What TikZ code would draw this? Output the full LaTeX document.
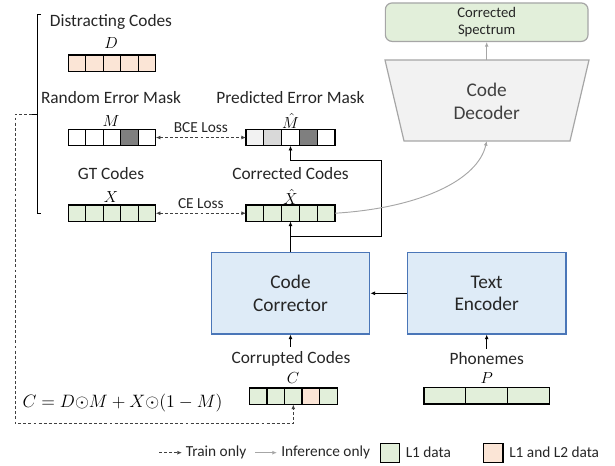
\documentclass[tikz,border=0pt]{standalone}
\usepackage{fontspec}
\setmainfont{Carlito}
\usetikzlibrary{arrows.meta}

\definecolor{lone}{HTML}{E2EFDA}
\definecolor{ltwo}{HTML}{FBE5D6}
\definecolor{boxblue}{HTML}{DEEBF7}
\definecolor{edgeblue}{HTML}{4A76B8}
\definecolor{maskdark}{HTML}{7F7F7F}
\definecolor{maskmid}{HTML}{D9D9D9}
\definecolor{masklight}{HTML}{F2F2F2}
\definecolor{infergray}{HTML}{A6A6A6}
\definecolor{txt}{HTML}{262626}

% row of code cells: name, left, top, cell width, fills
\newcommand{\codebar}[5]{%
  \foreach \c [count=\i] in {#5} {
    \node[cell, minimum width=#4*0.75pt, fill=\c] (#1\i) at ({#2+(\i-0.5)*#4}, #3+8.25) {};
  }
}

\begin{document}
\begin{tikzpicture}[x=0.75pt, y=-0.75pt,
    cell/.style={draw=black, line width=1pt, minimum height=12.4pt, inner sep=0pt, outer sep=0pt},
    lbl/.style={text=txt, font=\fontsize{13}{15}\selectfont, inner sep=0pt},
    sym/.style={font=\fontsize{13}{15}\selectfont, inner sep=0pt},
    module/.style={draw=edgeblue, line width=0.9pt, fill=boxblue, text=txt, align=center,
        minimum width=119pt, minimum height=61pt, font=\fontsize{14.5}{17}\selectfont},
    wire/.style={line width=0.6pt},
    tip/.style={-{Latex[length=3.5pt,width=3pt]}},
    train/.style={draw=black!75, line width=0.7pt, dash pattern=on 2.2pt off 1.6pt},
    infer/.style={draw=infergray, line width=0.7pt, -{Latex[length=3.5pt,width=3pt]}}]
    \useasboundingbox (0,0) rectangle (615,466);

    % --- Code rows ---
    \codebar{D}{68.3}{55}{17.5}{ltwo,ltwo,ltwo,ltwo,ltwo}
    \codebar{M}{68.3}{129.3}{17.5}{white,white,white,maskdark,white}
    \codebar{X}{68.3}{205}{17.5}{lone,lone,lone,lone,lone}
    \codebar{Mh}{246}{129.3}{17.8}{masklight,maskmid,white,maskdark,white}
    \codebar{Xh}{246}{205}{17.8}{lone,lone,lone,lone,lone}
    \codebar{C}{249.3}{388}{17.6}{lone,lone,lone,ltwo,lone}
    \codebar{P}{424}{387.5}{41.8}{lone,lone,lone}

    \node[lbl] (dtitle) at (111,22) {Distracting Codes};
    \node[sym] (dsym) at (111,43) {$D$};
    \node[lbl] (mtitle) at (111,97.5) {Random Error Mask};
    \node[sym] (msym) at (111,121) {$M$};
    \node[lbl] (xtitle) at (111,173.5) {GT Codes};
    \node[sym] (xsym) at (111,197) {$X$};
    \node[lbl] (mhtitle) at (290.5,97.5) {Predicted Error Mask};
    \node[sym] (mhsym) at (290.5,121) {$\hat{M}$};
    \node[lbl] (xhtitle) at (290.5,173.5) {Corrected Codes};
    \node[sym] (xhsym) at (290.5,197) {$\hat{X}$};
    \node[lbl] (ctitle) at (291,358.5) {Corrupted Codes};
    \node[sym] (csym) at (293,378.5) {$C$};
    \node[lbl] (ptitle) at (486.7,358.5) {Phonemes};
    \node[sym] (psym) at (486.7,378.5) {$P$};
    \node[font=\fontsize{12}{14}\selectfont, inner sep=0pt] (mix) at (122.5,403)
        {\scalebox{1.12}{$C = D{\odot}M + X{\odot}(1-M)$}};
    % ---

    % --- Bracket and losses ---
    \coordinate (brtop) at (37.7,14);
    \coordinate (brbot) at (37.7,213);
    \coordinate (brmid) at (31.7,114);
    \draw[wire] ([xshift=2.5]brtop) -- (brtop) -- (brbot) -- ([xshift=2.5]brbot);
    \draw[wire] (37.7,114) -- (brmid);
    \draw[train, {Latex[length=3.5pt,width=3pt]}-{Latex[length=3.5pt,width=3pt]}] (M5.east) -- (Mh1.west)
        node[midway, anchor=south, inner sep=3pt, text=txt, font=\fontsize{11.5}{13}\selectfont] {BCE Loss};
    \draw[train, {Latex[length=3.5pt,width=3pt]}-{Latex[length=3.5pt,width=3pt]}] (X5.east) -- (Xh1.west)
        node[midway, anchor=south, inner sep=3pt, text=txt, font=\fontsize{11.5}{13}\selectfont] {CE Loss};
    \coordinate (trcorner) at (15,423.3);
    \draw[train, tip] (brmid) -| (trcorner) -| (C3.south);
    % ---

    % --- Corrector, encoder, decoder ---
    \node[module] (corr) at (290.5,293.3) {Code\\Corrector};
    \node[module] (enc) at (486.7,293.3) {Text\\Encoder};
    \coordinate (cin) at (290.5,347);
    \coordinate (pin) at (486.7,349);
    \draw[wire, tip] (enc.west) -- (corr.east);
    \draw[wire, tip] (cin) -- (corr.south);
    \draw[wire, tip] (pin) -- (enc.south);

    \coordinate (split) at (290.5,236);
    \coordinate (loop) at (381.7,160);
    \draw[wire] (corr.north) -- (split);
    \draw[wire, tip] (split) -- (Xh3.south);
    \draw[wire, tip] (split) -| (loop) -| (Mh3.south);

    \coordinate (dectl) at (385,60);
    \coordinate (dectr) at (589,60);
    \coordinate (decbr) at (570,141);
    \coordinate (decbl) at (404,141);
    \draw[draw=infergray, fill=masklight, line width=0.9pt] (dectl) -- (dectr) -- (decbr) -- (decbl) -- cycle;
    \node[text=black!75, align=center, font=\fontsize{14.5}{17}\selectfont] (dec) at (486.7,101.5) {Code\\Decoder};
    \coordinate (decin) at (486.7,141);
    \coordinate (decout) at (486.7,60);
    \node[draw=infergray, line width=0.9pt, fill=lone, rounded corners=5pt, minimum width=152pt, minimum height=28.3pt,
        align=center, text=txt, font=\fontsize{11}{12.75}\selectfont] (spec) at (486.7,22.2) {Corrected\\Spectrum};
    \draw[infer] (decout) -- (spec.south);
    \draw[infer] (Xh5.east) .. controls (420,208) and (478,180) .. (decin);
    % ---

    % --- Legend ---
    \coordinate (ltrain) at (159,452.7);
    \coordinate (linfer) at (255,452.7);
    \draw[train, tip] (ltrain) -- ++(23,0);
    \node[lbl, anchor=west, font=\fontsize{11.5}{13}\selectfont] (ltraintxt) at (185.5,452.7) {Train only};
    \draw[infer] (linfer) -- ++(22,0);
    \node[lbl, anchor=west, font=\fontsize{11.5}{13}\selectfont] (linfertxt) at (281,452.7) {Inference only};
    \node[cell, fill=lone, minimum width=14.3pt, minimum height=14.3pt] (lgreen) at (389.7,452.8) {};
    \node[lbl, anchor=west, font=\fontsize{11.5}{13}\selectfont] (lgreentxt) at (405.5,452.7) {L1 data};
    \node[cell, fill=ltwo, minimum width=14.3pt, minimum height=14.3pt] (lpeach) at (493.3,452.8) {};
    \node[lbl, anchor=west, font=\fontsize{11.5}{13}\selectfont] (lpeachtxt) at (509,452.7) {L1 and L2 data};
    % ---
\end{tikzpicture}
\end{document}
